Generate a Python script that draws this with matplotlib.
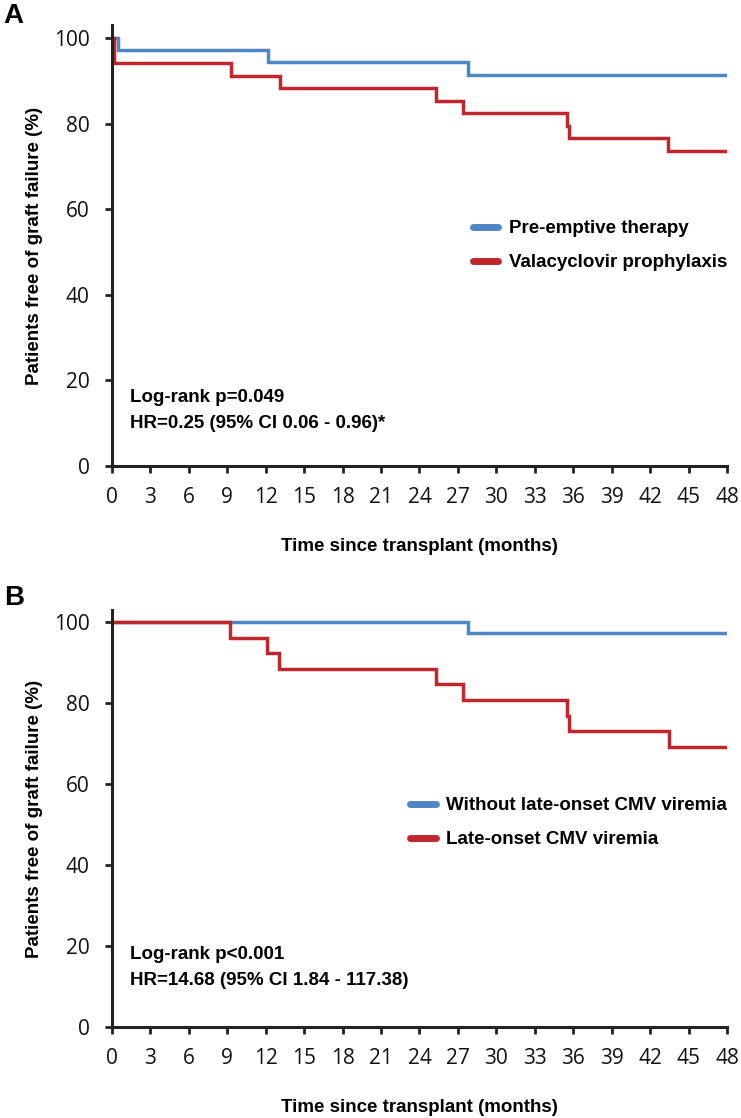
import matplotlib
matplotlib.use('Agg')
import matplotlib.pyplot as plt
from matplotlib import font_manager

# Kaplan-Meier steps (months, % free of graft failure)
a_blue_t = [0, 0.45, 12.2, 27.8, 48]
a_blue_s = [100, 97.1, 94.3, 91.4, 91.4]
a_red_t = [0, 0.15, 9.3, 13.1, 25.3, 27.4, 35.5, 35.7, 43.4, 48]
a_red_s = [100, 94.1, 91.2, 88.2, 85.3, 82.4, 79.4, 76.5, 73.5, 73.5]

b_blue_t = [0, 27.8, 48]
b_blue_s = [100, 97.4, 97.4]
b_red_t = [0, 9.2, 12.1, 13.0, 25.3, 27.4, 35.5, 35.7, 43.5, 48]
b_red_s = [100, 96.2, 92.3, 88.5, 84.6, 80.8, 76.9, 73.1, 69.2, 69.2]

a_labels = ['Pre-emptive therapy', 'Valacyclovir prophylaxis']
b_labels = ['Without late-onset CMV viremia', 'Late-onset CMV viremia']
a_stats = ['Log-rank p=0.049', 'HR=0.25 (95% CI 0.06 - 0.96)*']
b_stats = ['Log-rank p<0.001', 'HR=14.68 (95% CI 1.84 - 117.38)']

x_ticks = list(range(0, 49, 3))
y_ticks = [0, 20, 40, 60, 80, 100]

BLUE = '#4F86C6'
RED = '#C0272D'
AXIS = '#222222'

installed = {f.name for f in font_manager.fontManager.ttflist}
tick_font = 'Open Sans' if 'Open Sans' in installed else 'DejaVu Sans'
bold_font = 'Liberation Sans' if 'Liberation Sans' in installed else 'DejaVu Sans'
BOLD_SIZE = 13.5


def km_panel(ax, blue, red, labels, stats, stat_y, leg_y):
    ax.step(blue[0], blue[1], where='post', color=BLUE, lw=2.5, label=labels[0],
            solid_joinstyle='miter')
    ax.step(red[0], red[1], where='post', color=RED, lw=2.5, label=labels[1],
            solid_joinstyle='miter')
    ax.set_xlim(0, 48)
    ax.set_ylim(0, 103)
    ax.set_xticks(x_ticks)
    ax.set_yticks(y_ticks)
    for side in ['top', 'right']:
        ax.spines[side].set_visible(False)
    for side in ['left', 'bottom']:
        ax.spines[side].set_linewidth(2.2)
        ax.spines[side].set_color(AXIS)
    ax.tick_params(direction='out', length=5, width=2, color=AXIS,
                   labelsize=15, labelcolor='#111111')
    ax.tick_params(axis='y', pad=11)
    ax.tick_params(axis='x', pad=10)
    for lab in ax.get_xticklabels() + ax.get_yticklabels():
        lab.set_family(tick_font)
    ax.set_xlabel('Time since transplant (months)', fontsize=BOLD_SIZE, fontweight='bold',
                  family=bold_font, labelpad=22)
    ax.set_ylabel('Patients free of graft failure (%)', fontsize=BOLD_SIZE, fontweight='bold',
                  family=bold_font, labelpad=8)
    leg = ax.legend(loc='center right', bbox_to_anchor=(1.0, leg_y), frameon=False,
                    borderaxespad=0, borderpad=0, handlelength=1.35, handletextpad=0.55,
                    labelspacing=0.9,
                    prop={'family': bold_font, 'weight': 'bold', 'size': BOLD_SIZE})
    for h in leg.get_lines():
        h.set_linewidth(5)
        h.set_solid_capstyle('round')
    ax.text(1.4, stat_y[0], stats[0], fontsize=BOLD_SIZE, fontweight='bold',
            family=bold_font, va='center')
    ax.text(1.4, stat_y[1], stats[1], fontsize=BOLD_SIZE, fontweight='bold',
            family=bold_font, va='center')


fig = plt.figure(figsize=(7.41, 11.18), dpi=100)
ax_a = fig.add_axes([0.1511, 0.5832, 0.830, 0.3944])
ax_b = fig.add_axes([0.1511, 0.0814, 0.830, 0.3730])

km_panel(ax_a, (a_blue_t, a_blue_s), (a_red_t, a_red_s), a_labels, a_stats,
         (16.1, 10.0), 0.5)
km_panel(ax_b, (b_blue_t, b_blue_s), (b_red_t, b_red_s), b_labels, b_stats,
         (18.0, 11.6), 0.49)

fig.text(0.004, 0.9855, 'A', fontsize=20, fontweight='bold', family=bold_font, va='center')
fig.text(0.006, 0.4655, 'B', fontsize=20, fontweight='bold', family=bold_font, va='center')

fig.savefig('out.png', dpi=100)
